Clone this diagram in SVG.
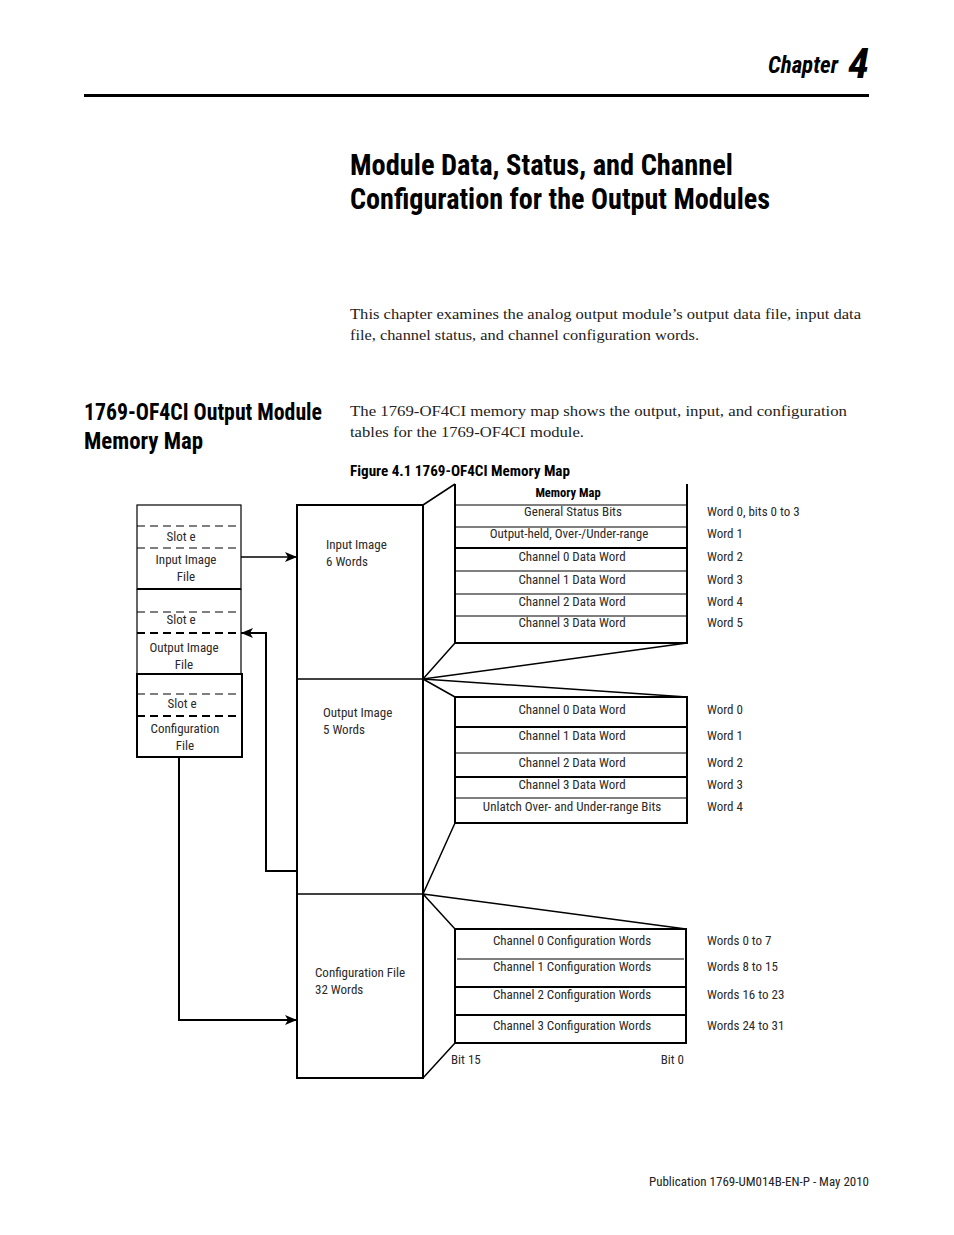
<svg xmlns="http://www.w3.org/2000/svg" width="954" height="1235" viewBox="0 0 954 1235">
<defs>
<style>
.c{font-family:"Liberation Sans Narrow","Roboto Condensed","DejaVu Sans Condensed","Liberation Sans",sans-serif;}
.lbl{font-size:13px;fill:#2a2a2a;}
.mid{text-anchor:middle;}
.bd{fill:none;stroke:#000;stroke-width:2;}
.th{fill:none;stroke:#000;stroke-width:1.2;}
.ln{fill:none;stroke:#000;stroke-width:1.5;}
.dash{stroke:#000;stroke-width:1.2;stroke-dasharray:8,5;}
.dashb{stroke:#000;stroke-width:2;stroke-dasharray:8,5;}
.serif{font-family:"Liberation Serif","Times New Roman",serif;font-size:15.3px;fill:#222;}
</style>
<marker id="ah" viewBox="0 0 12 10" refX="12" refY="5" markerWidth="12" markerHeight="10" markerUnits="userSpaceOnUse" orient="auto">
<path d="M0,0 L12,5 L0,10 L3,5 Z" fill="#000"/>
</marker>
</defs>
<rect width="954" height="1235" fill="#fff"/>

<g id="header">
<text x="838" y="73" class="c" font-size="23" font-weight="bold" font-style="italic" text-anchor="end" textLength="70" lengthAdjust="spacingAndGlyphs">Chapter</text>
<text x="848" y="78" class="c" font-size="42" font-weight="bold" font-style="italic" textLength="21" lengthAdjust="spacingAndGlyphs">4</text>
<line x1="84" y1="95.5" x2="869" y2="95.5" stroke="#000" stroke-width="3"/>
<text x="350" y="175" class="c" font-size="30" font-weight="bold" textLength="383" lengthAdjust="spacingAndGlyphs">Module Data, Status, and Channel</text>
<text x="350" y="209" class="c" font-size="30" font-weight="bold" textLength="420" lengthAdjust="spacingAndGlyphs">Configuration for the Output Modules</text>
<text x="350" y="319" class="serif" textLength="511" lengthAdjust="spacingAndGlyphs">This chapter examines the analog output module’s output data file, input data</text>
<text x="350" y="340" class="serif" textLength="349" lengthAdjust="spacingAndGlyphs">file, channel status, and channel configuration words.</text>
<text x="84" y="420" class="c" font-size="23" font-weight="bold" textLength="238" lengthAdjust="spacingAndGlyphs">1769-OF4CI Output Module</text>
<text x="84" y="449" class="c" font-size="23" font-weight="bold" textLength="119" lengthAdjust="spacingAndGlyphs">Memory Map</text>
<text x="350" y="416" class="serif" textLength="497" lengthAdjust="spacingAndGlyphs">The 1769-OF4CI memory map shows the output, input, and configuration</text>
<text x="350" y="437" class="serif" textLength="234" lengthAdjust="spacingAndGlyphs">tables for the 1769-OF4CI module.</text>
<text x="350" y="476" class="c" font-size="14" font-weight="bold" textLength="220" lengthAdjust="spacingAndGlyphs">Figure 4.1 1769-OF4CI Memory Map</text>
<text x="869" y="1186" class="c" font-size="13" fill="#222" text-anchor="end" textLength="220" lengthAdjust="spacingAndGlyphs">Publication 1769-UM014B-EN-P - May 2010</text>
</g>

<g id="slot-input">
<rect x="137" y="505" width="104" height="84" class="th"/>
<line x1="137" y1="526" x2="241" y2="526" class="dash"/>
<line x1="137" y1="548" x2="241" y2="548" class="dash"/>
<text x="181" y="541" class="c lbl mid">Slot e</text>
<text x="186" y="564" class="c lbl mid">Input Image</text>
<text x="186" y="581" class="c lbl mid">File</text>
</g>
<g id="slot-output">
<path d="M137,589 V674 M241,589 V674" class="th"/>
<line x1="137" y1="589" x2="241" y2="589" stroke="#000" stroke-width="2.2"/>
<line x1="137" y1="612" x2="241" y2="612" class="dash"/>
<line x1="137" y1="633" x2="241" y2="633" class="dashb"/>
<text x="181" y="624" class="c lbl mid">Slot e</text>
<text x="184" y="652" class="c lbl mid">Output Image</text>
<text x="184" y="669" class="c lbl mid">File</text>
</g>
<g id="slot-config">
<rect x="137" y="674" width="105" height="83" class="bd"/>
<line x1="137" y1="694" x2="242" y2="694" class="dash"/>
<line x1="137" y1="716" x2="242" y2="716" class="dashb"/>
<text x="182" y="708" class="c lbl mid">Slot e</text>
<text x="185" y="733" class="c lbl mid">Configuration</text>
<text x="185" y="750" class="c lbl mid">File</text>
</g>

<g id="image-block">
<rect x="297" y="505" width="126" height="573" class="bd"/>
<line x1="297" y1="679" x2="423" y2="679" class="ln"/>
<line x1="297" y1="894" x2="423" y2="894" class="ln"/>
<text x="326" y="549" class="c lbl">Input Image</text>
<text x="326" y="566" class="c lbl">6 Words</text>
<text x="323" y="717" class="c lbl">Output Image</text>
<text x="323" y="734" class="c lbl">5 Words</text>
<text x="315" y="977" class="c lbl">Configuration File</text>
<text x="315" y="994" class="c lbl">32 Words</text>
</g>

<g id="input-table">
<path d="M455,484 V643 H687 V484" class="bd"/>
<line x1="455" y1="505" x2="687" y2="505" class="th"/>
<line x1="455" y1="527" x2="687" y2="527" class="th"/>
<line x1="455" y1="548" x2="687" y2="548" class="bd"/>
<line x1="455" y1="571" x2="687" y2="571" class="th"/>
<line x1="455" y1="594" x2="687" y2="594" class="th"/>
<line x1="455" y1="616" x2="687" y2="616" class="th"/>
<text x="568" y="497" class="c mid" font-size="12.5" font-weight="bold">Memory Map</text>
<text x="573" y="516" class="c lbl mid">General Status Bits</text>
<text x="569" y="538" class="c lbl mid">Output-held, Over-/Under-range</text>
<text x="572" y="561" class="c lbl mid">Channel 0 Data Word</text>
<text x="572" y="584" class="c lbl mid">Channel 1 Data Word</text>
<text x="572" y="606" class="c lbl mid">Channel 2 Data Word</text>
<text x="572" y="627" class="c lbl mid">Channel 3 Data Word</text>
<text x="707" y="516" class="c lbl">Word 0, bits 0 to 3</text>
<text x="707" y="538" class="c lbl">Word 1</text>
<text x="707" y="561" class="c lbl">Word 2</text>
<text x="707" y="584" class="c lbl">Word 3</text>
<text x="707" y="606" class="c lbl">Word 4</text>
<text x="707" y="627" class="c lbl">Word 5</text>
</g>

<g id="output-table">
<rect x="455" y="697" width="232" height="126" class="bd"/>
<line x1="455" y1="727" x2="687" y2="727" class="bd"/>
<line x1="455" y1="753" x2="687" y2="753" class="th"/>
<line x1="455" y1="777" x2="687" y2="777" class="bd"/>
<line x1="455" y1="798" x2="687" y2="798" class="th"/>
<text x="572" y="714" class="c lbl mid">Channel 0 Data Word</text>
<text x="572" y="740" class="c lbl mid">Channel 1 Data Word</text>
<text x="572" y="767" class="c lbl mid">Channel 2 Data Word</text>
<text x="572" y="789" class="c lbl mid">Channel 3 Data Word</text>
<text x="572" y="811" class="c lbl mid">Unlatch Over- and Under-range Bits</text>
<text x="707" y="714" class="c lbl">Word 0</text>
<text x="707" y="740" class="c lbl">Word 1</text>
<text x="707" y="767" class="c lbl">Word 2</text>
<text x="707" y="789" class="c lbl">Word 3</text>
<text x="707" y="811" class="c lbl">Word 4</text>
</g>

<g id="config-table">
<rect x="455" y="929" width="231" height="114" class="bd"/>
<line x1="457" y1="959" x2="684" y2="959" class="th"/>
<line x1="455" y1="987" x2="686" y2="987" class="bd"/>
<line x1="455" y1="1015" x2="686" y2="1015" class="bd"/>
<text x="572" y="945" class="c lbl mid">Channel 0 Configuration Words</text>
<text x="572" y="971" class="c lbl mid">Channel 1 Configuration Words</text>
<text x="572" y="999" class="c lbl mid">Channel 2 Configuration Words</text>
<text x="572" y="1030" class="c lbl mid">Channel 3 Configuration Words</text>
<text x="707" y="945" class="c lbl">Words 0 to 7</text>
<text x="707" y="971" class="c lbl">Words 8 to 15</text>
<text x="707" y="999" class="c lbl">Words 16 to 23</text>
<text x="707" y="1030" class="c lbl">Words 24 to 31</text>
<text x="451" y="1064" class="c lbl">Bit 15</text>
<text x="684" y="1064" class="c lbl" text-anchor="end">Bit 0</text>
</g>

<g id="connectors">
<path d="M423,505 L455,484 M423,679 L455,643 M423,679 L687,643 M423,679 L687,697 M423,679 L455,697 M455,823 L423,894 M423,894 L686,929 M423,894 L455,929 M455,1043 L423,1078" class="ln"/>
<line x1="241" y1="557" x2="297" y2="557" class="ln" marker-end="url(#ah)"/>
<path d="M297,871 H266 V633 H241" class="bd" marker-end="url(#ah)"/>
<path d="M179,757 V1020 H297" class="bd" marker-end="url(#ah)"/>
</g>
</svg>
